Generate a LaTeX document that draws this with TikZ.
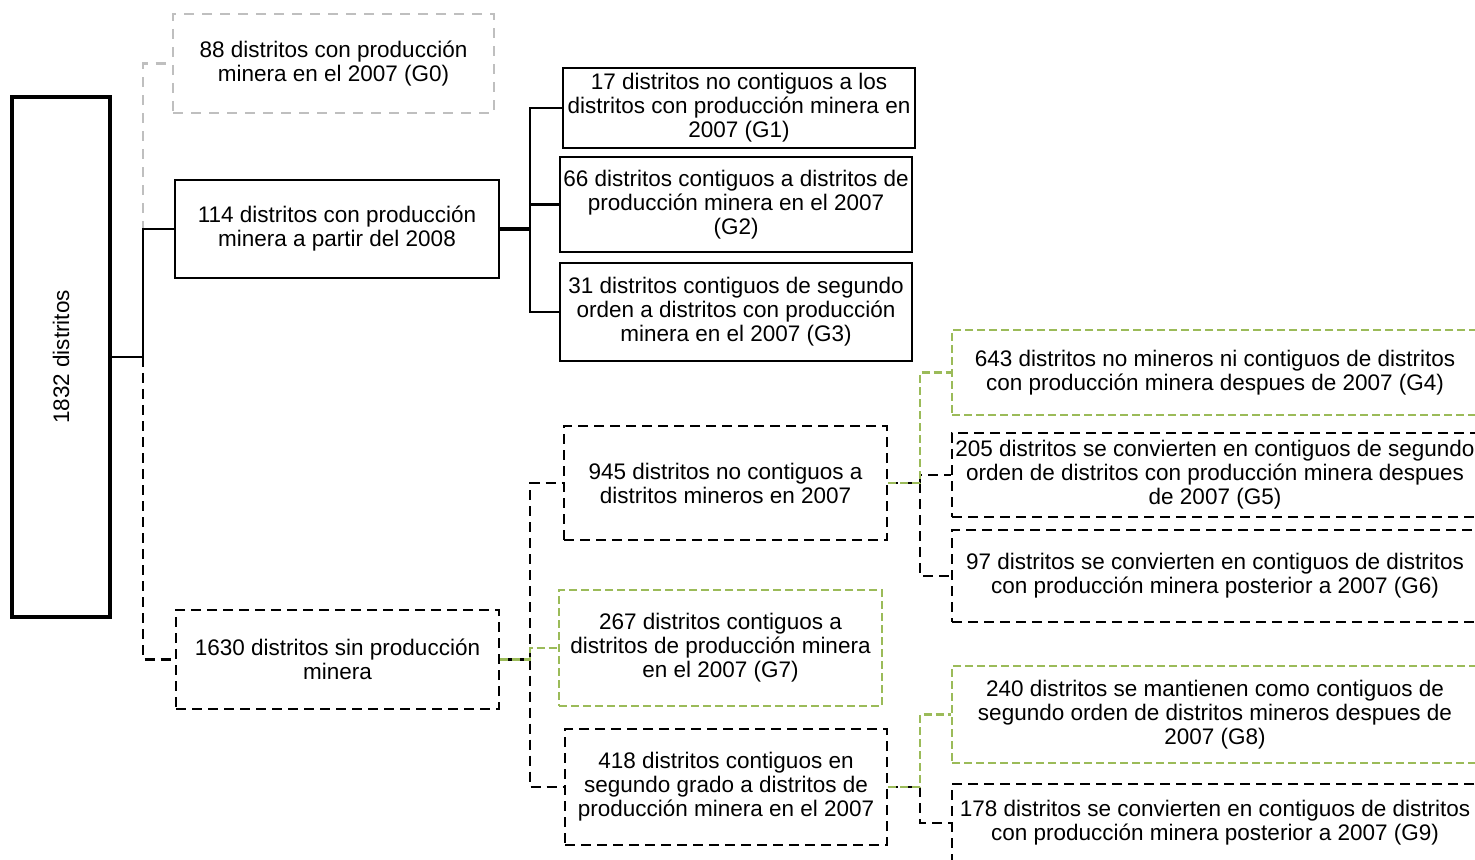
\documentclass[tikz,border=0pt]{standalone}
\usepackage{fontspec}
\setmainfont{Liberation Sans}
\definecolor{verde}{HTML}{9BBB59}
\definecolor{gris}{HTML}{BFBFBF}
\tikzset{
  caja/.style={
    draw=black, line width=1.1pt, inner sep=0pt, align=center,
    font=\fontsize{11.25}{12}\selectfont,
    execute at begin node={\vspace*{2pt}}
  },
  caja raiz/.style={
    caja, line width=1.6pt, minimum width=49pt, minimum height=260pt
  },
  caja trazos/.style={caja, dash pattern=on 5pt off 3pt},
  caja verde/.style={caja, draw=verde, dash pattern=on 4pt off 2pt},
  caja gris/.style={caja, draw=gris, dash pattern=on 5pt off 4pt},
  enlace/.style={draw=black, line width=1.1pt},
  enlace trazos/.style={enlace, dash pattern=on 5pt off 3pt},
  enlace verde/.style={enlace, draw=verde, dash pattern=on 4pt off 2pt},
  enlace gris/.style={enlace, draw=gris, dash pattern=on 5pt off 4pt}
}

\begin{document}
\begin{tikzpicture}[x=0.5pt, y=-0.5pt]
\useasboundingbox (0,0) rectangle (1475,860);
\clip (0,0) rectangle (1475,860);

% ------------------------------------------------
% raiz y primer nivel
% ------------------------------------------------
\node[caja raiz] (raiz) at (61,357) {\rotatebox{90}{1832 distritos}};
\node[caja gris, minimum width=160.5pt, minimum height=49.5pt] (g0) at (333.5,63.5)
  {88 distritos con producción\\minera en el 2007 (G0)};
\node[caja, minimum width=162pt, minimum height=49pt] (prod) at (337,229)
  {114 distritos con producción\\minera a partir del 2008};
\node[caja trazos, minimum width=161.5pt, minimum height=49.5pt] (sinprod) at (337.5,659.5)
  {1630 distritos sin producción\\minera};

\coordinate (j0) at (143,357);
\draw[enlace] (raiz.east) -- (j0);
\draw[enlace gris] (j0) |- (g0.west);
\draw[enlace] (j0) |- (prod.west);
\draw[enlace trazos] (j0) |- (sinprod.west);

% ------------------------------------------------
% distritos con produccion: G1, G2, G3
% ------------------------------------------------
\node[caja, minimum width=176pt, minimum height=40pt] (g1) at (739,108)
  {17 distritos no contiguos a los\\distritos con producción minera en\\2007 (G1)};
\node[caja, minimum width=176pt, minimum height=47.5pt] (g2) at (736,204.5)
  {66 distritos contiguos a distritos de\\producción minera en el 2007\\(G2)};
\node[caja, minimum width=176pt, minimum height=49pt] (g3) at (736,312)
  {31 distritos contiguos de segundo\\orden a distritos con producción\\minera en el 2007 (G3)};

\coordinate (j1) at (530,229);
\draw[enlace, line width=1.6pt] (prod.east) -- (j1);
\draw[enlace] (j1) |- (g1.west);
\draw[enlace] (j1) |- (g2.west);
\draw[enlace] (j1) |- (g3.west);

% ------------------------------------------------
% distritos sin produccion: 945, G7, 418
% ------------------------------------------------
\node[caja trazos, minimum width=161.5pt, minimum height=57pt] (n945) at (725.5,483)
  {945 distritos no contiguos a\\distritos mineros en 2007};
\node[caja verde, minimum width=161.5pt, minimum height=58pt] (g7) at (720.5,648)
  {267 distritos contiguos a\\distritos de producción minera\\en el 2007 (G7)};
\node[caja trazos, minimum width=161pt, minimum height=58pt] (n418) at (726,787)
  {418 distritos contiguos en\\segundo grado a distritos de\\producción minera en el 2007};

\coordinate (j2) at (530,659.5);
\draw[enlace trazos] (j2) |- (n945.west);
\draw[enlace trazos] (j2) |- (n418.west);
\draw[enlace] (sinprod.east) -- (j2);
\draw[enlace verde] (sinprod.east) -- (j2) |- (g7.west);

% ------------------------------------------------
% no contiguos: G4, G5, G6
% ------------------------------------------------
\node[caja verde, minimum width=263pt, minimum height=42.5pt] (g4) at (1215,372.5)
  {643 distritos no mineros ni contiguos de distritos\\con producción minera despues de 2007 (G4)};
\node[caja trazos, minimum width=263pt, minimum height=42pt] (g5) at (1215,475)
  {205 distritos se convierten en contiguos de segundo\\orden de distritos con producción minera despues\\de 2007 (G5)};
\node[caja trazos, minimum width=263pt, minimum height=46pt] (g6) at (1215,576)
  {97 distritos se convierten en contiguos de distritos\\con producción minera posterior a 2007 (G6)};

\coordinate (j3) at (920,483);
\draw[enlace trazos] (n945.east) -- (j3);
\draw[enlace trazos] (j3) |- (g5.west);
\draw[enlace trazos] (j3) |- (g6.west);
\draw[enlace verde] (n945.east) -- (j3) |- (g4.west);

% ------------------------------------------------
% segundo grado: G8, G9
% ------------------------------------------------
\node[caja verde, minimum width=263pt, minimum height=48.5pt] (g8) at (1215,714.5)
  {240 distritos se mantienen como contiguos de\\segundo orden de distritos mineros despues de\\2007 (G8)};
\node[caja trazos, minimum width=263pt, minimum height=39pt] (g9) at (1215,823)
  {178 distritos se convierten en contiguos de distritos\\con producción minera posterior a 2007 (G9)};

\coordinate (j4) at (920,787);
\draw[enlace trazos] (n418.east) -- (j4);
\draw[enlace trazos] (j4) |- (g9.west);
\draw[enlace verde] (n418.east) -- (j4) |- (g8.west);
\end{tikzpicture}
\end{document}
